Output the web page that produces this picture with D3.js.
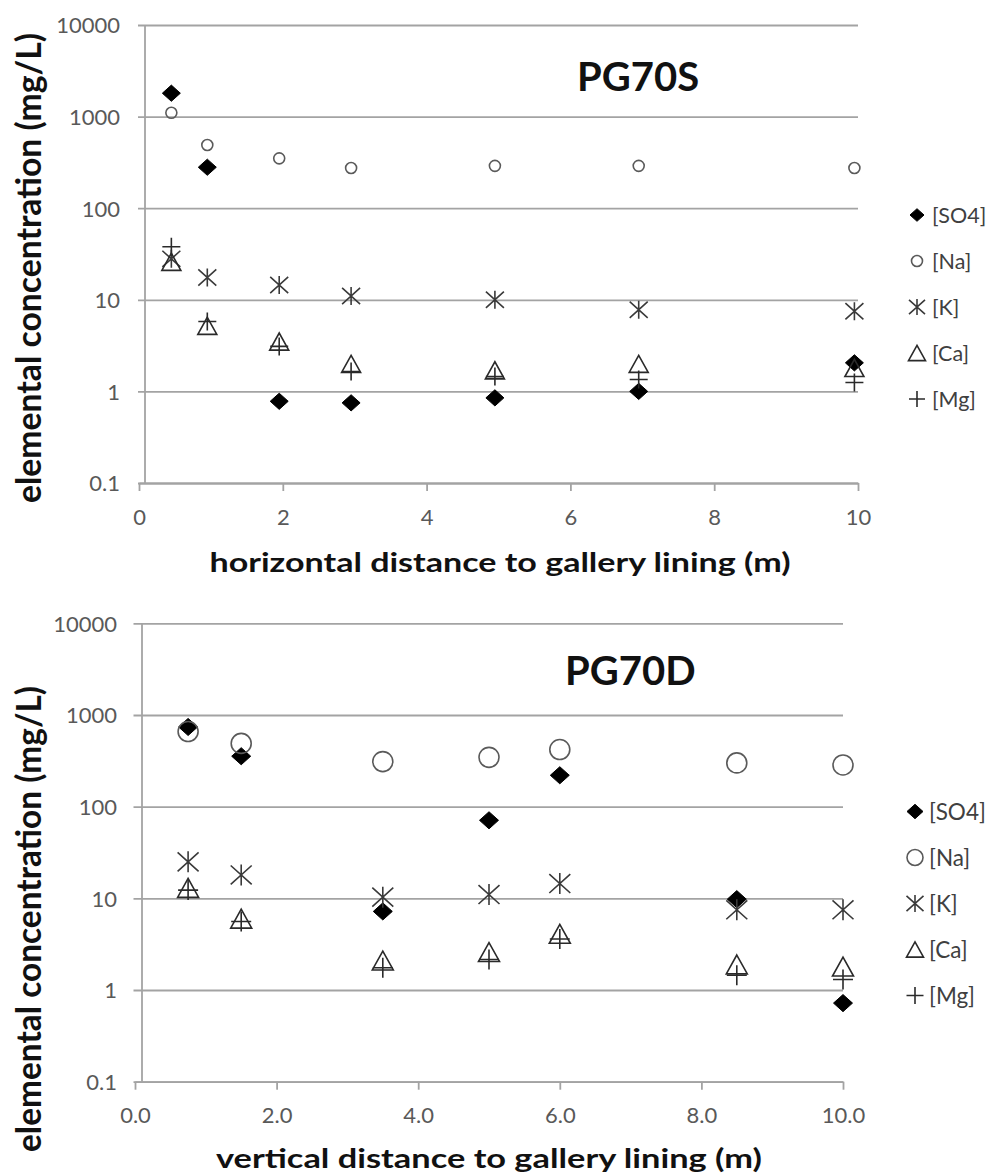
<!DOCTYPE html>
<html>
<head>
<meta charset="utf-8">
<script src="https://cdnjs.cloudflare.com/ajax/libs/d3/7.8.5/d3.min.js"></script>
<style>
  html, body { margin: 0; padding: 0; background: #fff; }
  svg { display: block; }
</style>
</head>
<body>
<svg id="chart" width="991" height="1176"></svg>
<script>
// ---- data -------------------------------------------------------------
const seriesNames = ["[SO4]", "[Na]", "[K]", "[Ca]", "[Mg]"];
const concentrationTicks = [0.1, 1, 10, 100, 1000, 10000];
const distanceTicks = [0, 2, 4, 6, 8, 10];

// PG70S : horizontal borehole
const distHorizontal = [0.45, 0.95, 1.95, 2.95, 4.95, 6.95, 9.95];
const so4Horizontal  = [1800, 280, 0.78, 0.75, 0.85, 1.0, 2.05];
const naHorizontal   = [1100, 490, 350, 275, 290, 290, 275];
const kHorizontal    = [28, 17.5, 14.5, 11, 10, 7.8, 7.5];
const caHorizontal   = [26, 5.2, 3.5, 2.0, 1.7, 2.0, 1.8];
const mgHorizontal   = [38, 5.8, 3.1, 1.65, 1.45, 1.35, 1.25];

// PG70D : vertical borehole
const distVertical = [0.75, 1.5, 3.5, 5.0, 6.0, 8.5, 10.0];
const so4Vertical  = [740, 355, 7.2, 71, 220, 9.8, 0.72];
const naVertical   = [660, 490, 310, 345, 420, 300, 285];
const kVertical    = [25, 18, 10.3, 11, 14.5, 7.5, 7.5];
const caVertical   = [13, 6, 2.1, 2.6, 4.1, 1.9, 1.8];
const mgVertical   = [12.3, 5.6, 1.75, 2.15, 3.6, 1.45, 1.3];

// ---- marker styles -----------------------------------------------------
const markerKinds = ["diamond", "circle", "star", "triangle", "plus"];
const markerStyle = {
  diamond:  { fill: "#000", stroke: "#000", width: 1 },
  circle:   { fill: "none", stroke: "#5a5a5a", width: 1.6 },
  star:     { fill: "none", stroke: "#3a3a3a", width: 1.6 },
  triangle: { fill: "none", stroke: "#2a2a2a", width: 1.6 },
  plus:     { fill: "none", stroke: "#2a2a2a", width: 1.6 }
};

function markerPath(kind, s) {
  // s = half size of the marker box
  switch (kind) {
    case "diamond":  return `M0,${-s * 0.9}L${s},0L0,${s * 0.9}L${-s},0Z`;
    case "star":     return `M0,${-s}V${s}M${-s},${-s * 0.9}L${s},${s * 0.9}M${s},${-s * 0.9}L${-s},${s * 0.9}`;
    case "triangle": return `M0,${-s * 0.9}L${s},${s * 0.9}L${-s},${s * 0.9}Z`;
    case "plus":     return `M${-s},0H${s}M0,${-s}V${s}`;
  }
  return "";
}

function drawMarker(sel, kind, s) {
  const st = markerStyle[kind];
  let m;
  if (kind === "circle") {
    m = sel.append("circle").attr("r", s);
  } else {
    m = sel.append("path").attr("d", markerPath(kind, s));
  }
  m.attr("fill", st.fill).attr("stroke", st.stroke).attr("stroke-width", st.width)
   .attr("stroke-linejoin", "miter");
  return m;
}

const svg = d3.select("#chart");
const FONT = "Lato, 'Open Sans', sans-serif";

function drawPanel(p) {
  const g = svg.append("g");
  const x = d3.scaleLinear().domain([0, 10]).range([p.x0, p.x1]);
  const y = d3.scaleLog().domain([0.1, 10000]).range([p.yBottom, p.yTop]);

  // horizontal gridlines (one per decade)
  const grid = g.append("g")
    .attr("transform", `translate(${p.gridLeft},0)`)
    .call(d3.axisRight(y).tickValues(concentrationTicks)
      .tickSize(p.x1 - p.gridLeft).tickFormat(""));
  grid.select(".domain").remove();
  grid.selectAll("line").attr("stroke", "#a3a3a3").attr("stroke-width", 1.8);

  // vertical axis line
  g.append("line")
    .attr("x1", p.axisX).attr("x2", p.axisX)
    .attr("y1", p.yTop).attr("y2", p.yBottom)
    .attr("stroke", "#a3a3a3").attr("stroke-width", 1.8);

  // concentration labels
  const yLab = g.append("g")
    .attr("transform", `translate(${p.gridLeft},0)`)
    .call(d3.axisLeft(y).tickValues(concentrationTicks)
      .tickSize(0).tickPadding(p.gridLeft - p.labelRight)
      .tickFormat(d3.format("~g")));
  yLab.select(".domain").remove();
  yLab.selectAll("text")
    .attr("font-family", FONT).attr("font-size", 22).attr("fill", "#595959")
    .attr("dy", "0.36em");

  // distance axis
  const xAx = g.append("g")
    .attr("transform", `translate(0,${p.yBottom})`)
    .call(d3.axisBottom(x).tickValues(distanceTicks).tickSize(8)
      .tickSizeOuter(0).tickFormat(p.xFormat));
  xAx.select(".domain").attr("stroke", "#a3a3a3").attr("stroke-width", 1.8);
  xAx.selectAll("line").attr("stroke", "#a3a3a3").attr("stroke-width", 1.8);
  xAx.selectAll("text")
    .attr("font-family", FONT).attr("font-size", 22).attr("fill", "#595959")
    .attr("y", p.xLabelOffset).attr("dy", 0);

  // axis titles
  g.append("text")
    .attr("x", p.xTitleX).attr("y", p.xTitleY)
    .attr("text-anchor", "middle")
    .attr("font-family", FONT).attr("font-weight", 700).attr("font-size", 27)
    .attr("fill", "#111")
    .attr("textLength", p.xTitleLen).attr("lengthAdjust", "spacingAndGlyphs")
    .text(p.xTitle);

  g.append("text")
    .attr("transform", `translate(${p.yTitleX},${p.yTitleY}) rotate(-90)`)
    .attr("text-anchor", "middle")
    .attr("font-family", FONT).attr("font-weight", 700).attr("font-size", 35)
    .attr("fill", "#111")
    .attr("textLength", p.yTitleLen).attr("lengthAdjust", "spacingAndGlyphs")
    .text("elemental concentration (mg/L)");

  // panel title
  g.append("text")
    .attr("x", p.titleX).attr("y", p.titleY)
    .attr("font-family", FONT).attr("font-weight", 700).attr("font-size", 40)
    .attr("fill", "#111")
    .text(p.title);

  // data points, series drawn in legend order
  p.series.forEach((vals, si) => {
    const kind = markerKinds[si];
    const sg = g.append("g").attr("class", "series-" + kind);
    vals.forEach((v, i) => {
      const mg = sg.append("g")
        .attr("transform", `translate(${x(p.dist[i])},${y(v)})`);
      drawMarker(mg, kind, p.markerSize[kind]);
    });
  });

  // legend
  const lg = g.append("g");
  seriesNames.forEach((name, i) => {
    const cy = p.legendY0 + i * p.legendStep;
    const mg = lg.append("g").attr("transform", `translate(${p.legendX},${cy})`);
    drawMarker(mg, markerKinds[i], p.legendMarker[markerKinds[i]]);
    lg.append("text")
      .attr("x", p.legendTextX).attr("y", cy).attr("dy", "0.36em")
      .attr("font-family", FONT).attr("font-size", p.legendFont).attr("fill", "#404040")
      .text(name);
  });
}

drawPanel({
  x0: 139, x1: 858, yTop: 25, yBottom: 483,
  gridLeft: 138, axisX: 145, labelRight: 120, xLabelOffset: 42,
  xFormat: d3.format("d"),
  title: "PG70S", titleX: 577, titleY: 91,
  xTitle: "horizontal distance to gallery lining (m)",
  xTitleX: 500, xTitleY: 572, xTitleLen: 581,
  yTitleX: 41, yTitleY: 268, yTitleLen: 470,
  dist: distHorizontal,
  series: [so4Horizontal, naHorizontal, kHorizontal, caHorizontal, mgHorizontal],
  markerSize: { diamond: 9, circle: 5.5, star: 9, triangle: 9.5, plus: 9 },
  legendX: 917, legendTextX: 932, legendY0: 215, legendStep: 46,
  legendMarker: { diamond: 7, circle: 5.5, star: 8, triangle: 8.5, plus: 8 },
  legendFont: 21.5
});

drawPanel({
  x0: 135, x1: 843, yTop: 623.3, yBottom: 1081.7,
  gridLeft: 133.5, axisX: 142, labelRight: 117, xLabelOffset: 41,
  xFormat: d3.format(".1f"),
  title: "PG70D", titleX: 565, titleY: 685,
  xTitle: "vertical distance  to gallery lining (m)",
  xTitleX: 489, xTitleY: 1168, xTitleLen: 546,
  yTitleX: 41, yTitleY: 919, yTitleLen: 466,
  dist: distVertical,
  series: [so4Vertical, naVertical, kVertical, caVertical, mgVertical],
  markerSize: { diamond: 9.5, circle: 10, star: 10.5, triangle: 10.5, plus: 10 },
  legendX: 915, legendTextX: 929, legendY0: 811.5, legendStep: 46,
  legendMarker: { diamond: 8, circle: 8, star: 8.5, triangle: 8.5, plus: 8.5 },
  legendFont: 22.5
});
</script>
</body>
</html>
